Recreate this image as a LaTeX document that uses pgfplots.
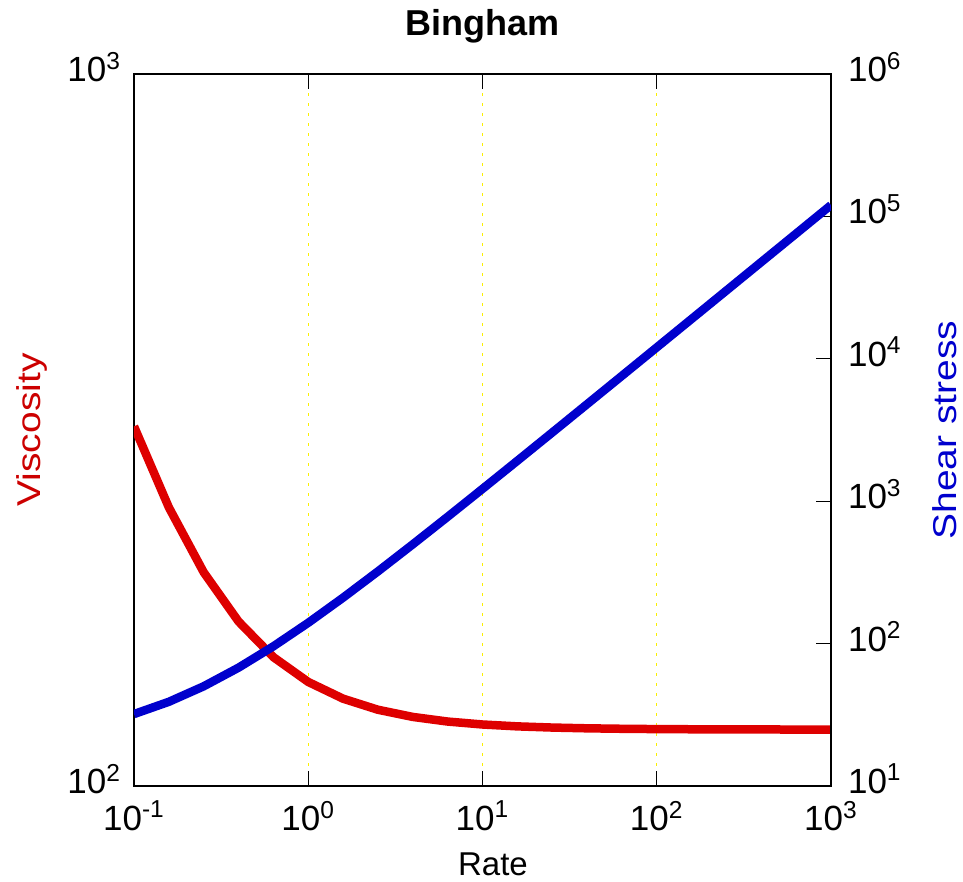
\documentclass[border=0pt]{standalone}
\usepackage{pgfplots}
\pgfplotsset{compat=1.18}
\usepackage{pgfplotstable}
\usepackage{fontspec}
\setmainfont{Liberation Sans}

\definecolor{vred}{RGB}{222,0,0}
\definecolor{sblue}{RGB}{0,0,205}
\definecolor{gridyellow}{RGB}{250,240,0}

% rate, viscosity (left axis), shear stress (right axis)
\pgfplotstableread{
rate      visc    stress
0.1       320.00  32.00
0.158489  246.19  39.02
0.251189  199.62  50.14
0.398107  170.24  67.77
0.630957  151.70  95.71
1         140.00  140.00
1.584893  132.62  210.19
2.511886  127.96  321.43
3.981072  125.02  497.73
6.309573  123.17  777.15
10        122.00  1220.00
15.84893  121.26  1921.87
25.11886  120.80  3034.26
39.81072  120.50  4797.29
63.09573  120.32  7591.49
100       120.20  12020.00
158.4893  120.13  19038.70
251.1886  120.08  30162.60
398.1072  120.05  47792.90
630.9573  120.03  75734.90
1000      120.02  120020.00
}\bingham

\pgfplotsset{
  common/.style={
    at={(0,0)}, anchor=south west,
    scale only axis, width=348.5pt, height=356pt,
    xmin=0.1, xmax=1000,
    xminorticks=false, yminorticks=false,
    tick align=inside,
    major tick length=7.5pt,
    tick style={black, line width=0.6pt},
    axis line style={line width=0.75pt},
    tick label style={font=\fontsize{17.5}{20}\selectfont},
    label style={font=\fontsize{16.5}{19}\selectfont},
  }
}

\begin{document}
\begin{tikzpicture}
\path[use as bounding box] (-67pt,-48pt) rectangle (414.5pt,393pt);

\begin{axis}[
  xmode=log, ymode=log,
  common,
  ymin=100, ymax=1000,
  xtick={0.1,1,10,100,1000},
  xticklabels={10\textsuperscript{-1},10\textsuperscript{0},10\textsuperscript{1},10\textsuperscript{2},10\textsuperscript{3}},
  ytick={100,1000},
  yticklabels={10\textsuperscript{2},10\textsuperscript{3}},
  xtick pos=both, ytick pos=left,
  xticklabel style={yshift=-4pt},
  yticklabel style={xshift=-3pt, yshift=3.5pt},
  xmajorgrids,
  major grid style={gridyellow, line width=0.5pt, dash pattern=on 1.5pt off 3.5pt},
  title={Bingham},
  title style={at={(axis description cs:0.5,1.067)}, anchor=center, yshift=-6pt, font=\fontsize{18}{21}\selectfont\bfseries},
  xlabel={Rate},
  xlabel style={at={(axis description cs:0.515,-0.11)}, anchor=center},
  ylabel={\scalebox{1.18}[1]{Viscosity}},
  ylabel style={at={(axis description cs:-0.146,0.5)}, anchor=center, color=vred!92!black},
]
\addplot[vred, line width=4.25pt, line join=round] table[x=rate, y=visc] {\bingham};
\end{axis}

\begin{axis}[
  xmode=log, ymode=log,
  common,
  ymin=10, ymax=1000000,
  axis x line=none,
  axis y line*=right,
  ytick={10,100,1000,10000,100000,1000000},
  yticklabels={10\textsuperscript{1},10\textsuperscript{2},10\textsuperscript{3},10\textsuperscript{4},10\textsuperscript{5},10\textsuperscript{6}},
  yticklabel style={xshift=5pt, yshift=3.5pt},
  ylabel={\scalebox{1.18}[1]{Shear stress}},
  ylabel style={at={(axis description cs:1.163,0.5)}, anchor=center, color=sblue},
]
\addplot[sblue, line width=4.25pt, line join=round] table[x=rate, y=stress] {\bingham};
\end{axis}
\end{tikzpicture}
\end{document}
